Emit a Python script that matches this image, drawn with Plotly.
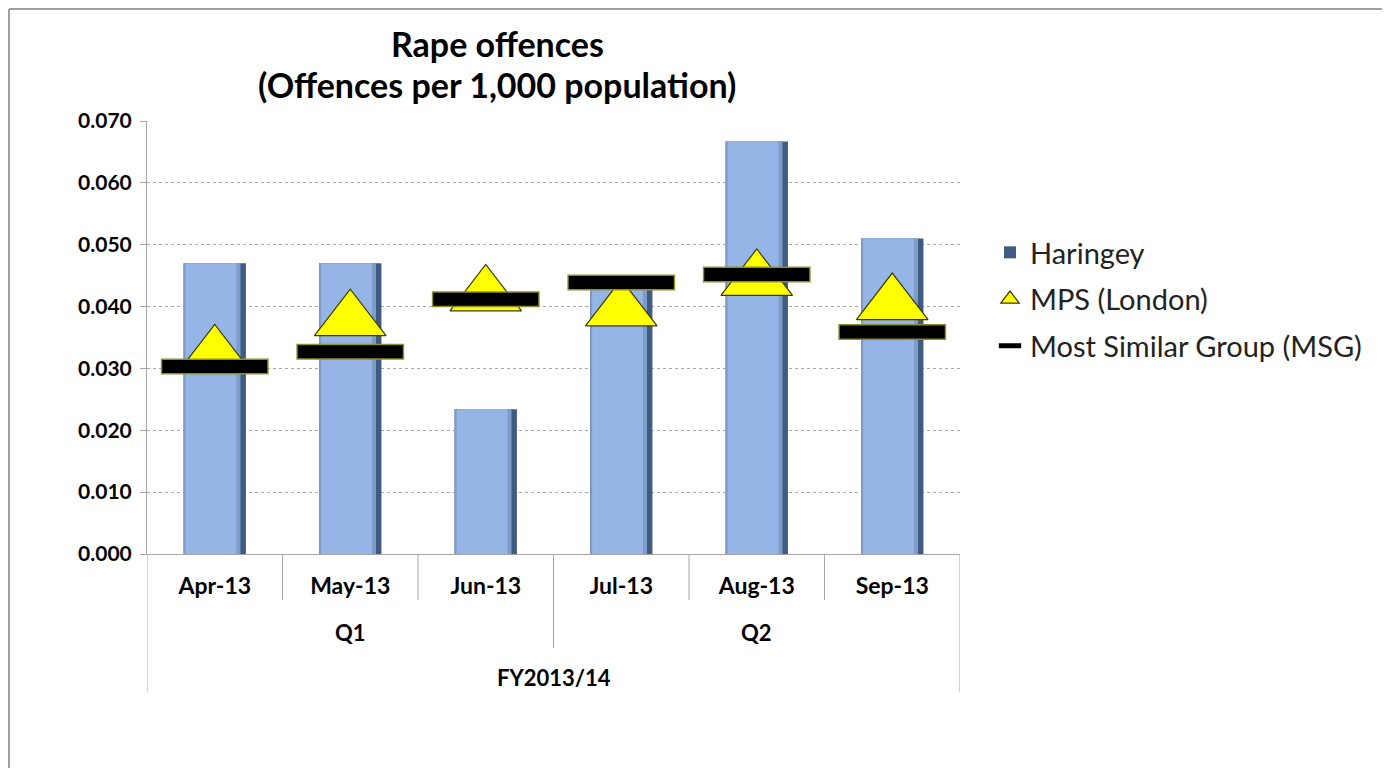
import plotly.graph_objects as go

months = ["Apr-13", "May-13", "Jun-13", "Jul-13", "Aug-13", "Sep-13"]
quarters = ["Q1", "Q2"]
quarter_of_month = [0, 0, 0, 1, 1, 1]
fiscal_year = "FY2013/14"
haringey = [0.0470, 0.0470, 0.0234, 0.0427, 0.0667, 0.0510]
mps = [0.0321, 0.0378, 0.0418, 0.0394, 0.0443, 0.0404]
msg = [0.0303, 0.0327, 0.0412, 0.0439, 0.0452, 0.0359]

FONT = "Lato"
xi = list(range(len(months)))

fig = go.Figure()
# bevelled bar: dark body, slightly darker left rim, light face
fig.add_trace(go.Bar(x=xi, y=haringey, width=0.46, marker=dict(color="#3F5B84", line=dict(width=0)),
                     name="Haringey", showlegend=True, legendgroup="a", hoverinfo="skip"))
fig.add_trace(go.Bar(x=xi, y=haringey, width=0.42, offset=-0.23,
                     marker=dict(color="#7F9CC8", line=dict(width=0)),
                     showlegend=False, hoverinfo="skip"))
fig.add_trace(go.Bar(x=xi, y=haringey, width=0.375, offset=-0.215,
                     marker=dict(color="#95B5E6", line=dict(width=0)),
                     showlegend=False, hoverinfo="skip"))
fig.add_trace(go.Scatter(x=xi, y=mps, mode="markers", name="MPS (London)", legendgroup="b",
                         marker=dict(symbol="triangle-up", size=62, color="#FFFF00",
                                     line=dict(color="#3A3A00", width=1.2))))
fig.add_trace(go.Scatter(x=xi, y=msg, mode="markers", showlegend=False, hoverinfo="skip",
                         marker=dict(symbol="line-ew", size=77, color="#8E8E2A",
                                     line=dict(color="#8E8E2A", width=16))))
fig.add_trace(go.Scatter(x=xi, y=msg, mode="markers", name="Most Similar Group (MSG)", legendgroup="c",
                         marker=dict(symbol="line-ew", size=75, color="#000000",
                                     line=dict(color="#000000", width=13))))

# plot area in page pixels: x 147..960, y 121..554 (page has 8px body margin)
PL, PR, PT, PB = 147, 960, 121, 554
W, H = 1374, 760
pw, ph = PR - PL, PB - PT
L, T = PL - 8, PT - 8
R, B = W - L - pw, H - T - ph

def py(px):
    return (PB - px) / ph

def pxp(px):
    return (px - PL) / pw

shapes = []
for i in range(len(months) + 1):
    xpos = i - 0.5
    if i == 0 or i == len(months):
        ybot = py(692)
    elif quarter_of_month[i] != quarter_of_month[i - 1]:
        ybot = py(648)
    else:
        ybot = py(600)
    shapes.append(dict(type="line", xref="x", yref="paper", x0=xpos, x1=xpos, y0=0, y1=ybot,
                       line=dict(color="#A6A6A6", width=1)))
# chart-area frame (top and left edges visible in the crop)
shapes.append(dict(type="line", xref="paper", yref="paper", x0=pxp(9), x1=pxp(1390), y0=py(9), y1=py(9),
                   line=dict(color="#A0A0A0", width=2), layer="below"))
shapes.append(dict(type="line", xref="paper", yref="paper", x0=pxp(9), x1=pxp(9), y0=py(9), y1=py(770),
                   line=dict(color="#A0A0A0", width=2), layer="below"))

annotations = []
for qi, q in enumerate(quarters):
    idx = [i for i, v in enumerate(quarter_of_month) if v == qi]
    annotations.append(dict(x=sum(idx) / len(idx), y=py(632), xref="x", yref="paper", text=f"<b>{q}</b>",
                            showarrow=False, yanchor="middle",
                            font=dict(family=FONT, size=22, color="#000000")))
annotations.append(dict(x=(len(months) - 1) / 2, y=py(677), xref="x", yref="paper",
                        text=f"<b>{fiscal_year}</b>", showarrow=False, yanchor="middle",
                        font=dict(family=FONT, size=22, color="#000000")))
annotations.append(dict(x=pxp(497), y=py(44), xref="paper", yref="paper",
                        text="<b>Rape offences</b>", showarrow=False, yanchor="middle",
                        font=dict(family=FONT, size=34, color="#000000")))
annotations.append(dict(x=pxp(497), y=py(84), xref="paper", yref="paper",
                        text="<b>(Offences per 1,000 population)</b>", showarrow=False, yanchor="middle",
                        font=dict(family=FONT, size=34, color="#000000")))

fig.update_layout(
    width=W, height=H,
    margin=dict(l=L, r=R, t=T, b=B),
    paper_bgcolor="white", plot_bgcolor="white",
    barmode="overlay",
    font=dict(family=FONT, color="#000000"),
    shapes=shapes, annotations=annotations,
    legend=dict(x=pxp(990), y=py(227), xanchor="left", yanchor="top",
                font=dict(family=FONT, size=29, color="#222222"), tracegroupgap=6,
                itemsizing="trace", bgcolor="rgba(0,0,0,0)"),
    xaxis=dict(tickmode="array", tickvals=xi, ticktext=[f"<b>{m}</b>" for m in months],
               range=[-0.5, len(months) - 0.5], showgrid=False, showline=True,
               linecolor="#A6A6A6", linewidth=1, ticks="", ticklabelstandoff=11,
               tickfont=dict(family=FONT, size=23, color="#000000"), zeroline=False),
    yaxis=dict(range=[0, 0.07], dtick=0.01, tickformat=".3f", showgrid=True,
               gridcolor="#A8A8A8", griddash="dot", gridwidth=1,
               showline=True, linecolor="#A6A6A6", linewidth=1, ticks="outside", ticklen=6,
               tickcolor="#A6A6A6", zeroline=False, ticklabelstandoff=4,
               tickfont=dict(family=FONT, size=21, color="#000000")),
)
fig.update_yaxes(tickprefix="<b>", ticksuffix="</b>")
fig.write_html("out.html")
